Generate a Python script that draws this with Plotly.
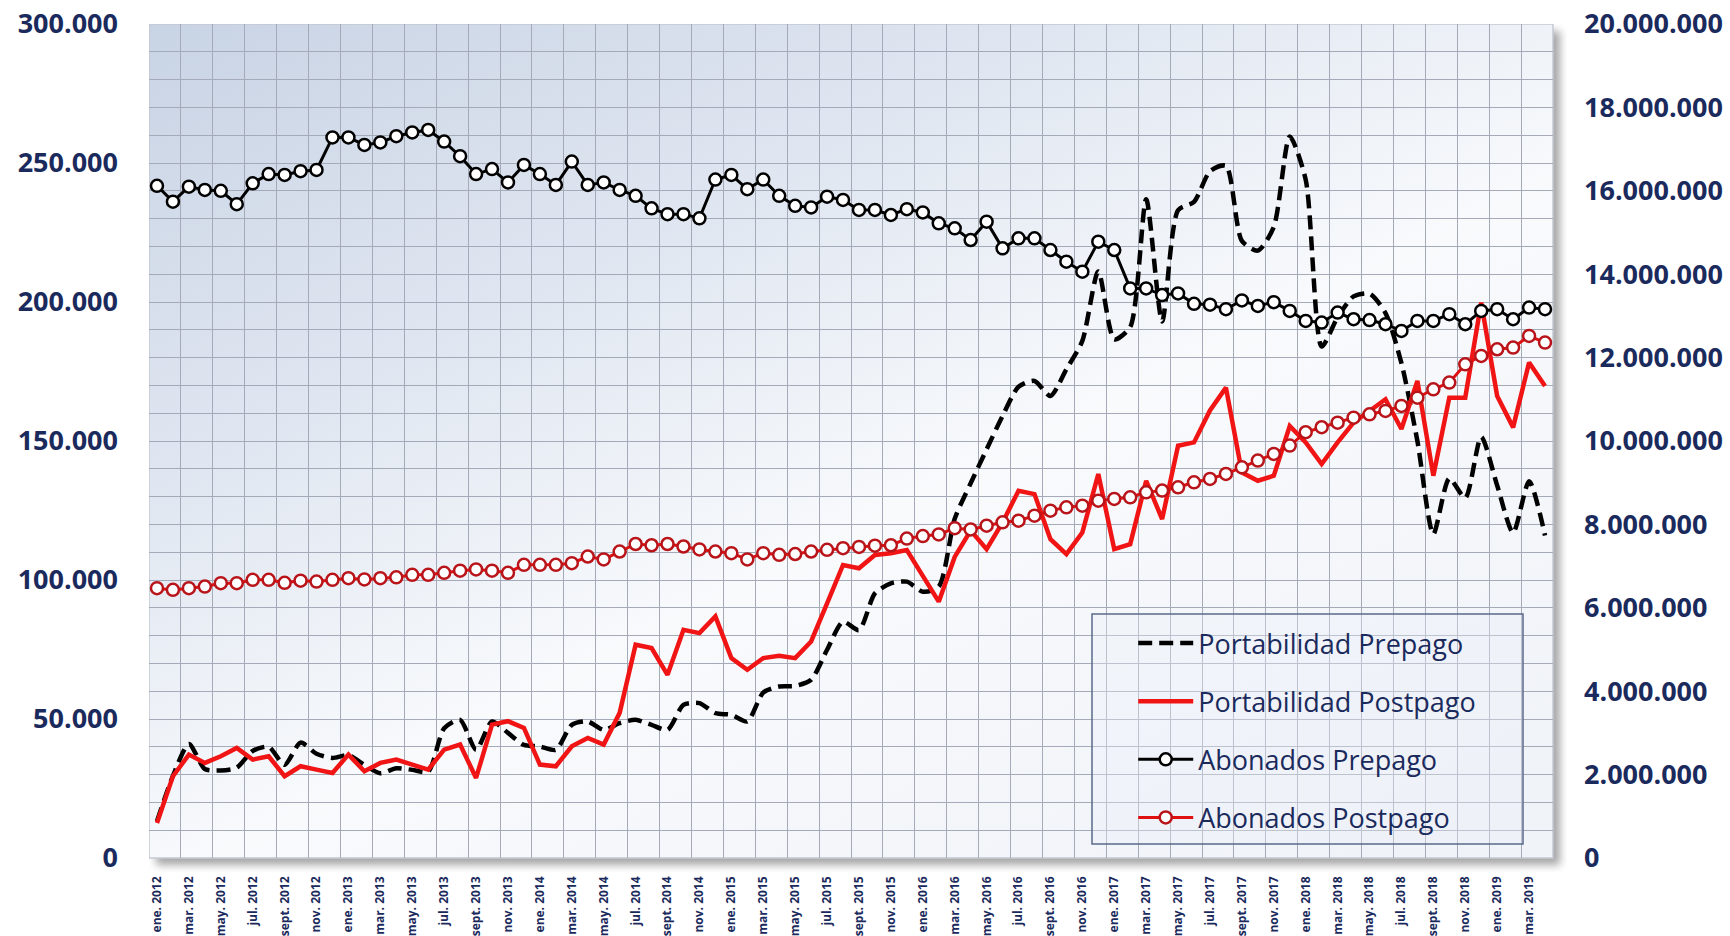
import base64
import plotly.graph_objects as go

# ---------------- data ----------------
month_abbr = ["ene.", "feb.", "mar.", "abr.", "may.", "jun.", "jul.", "ago.",
              "sept.", "oct.", "nov.", "dic."]
years = [2012, 2013, 2014, 2015, 2016, 2017, 2018, 2019]
months = [f"{m} {y}" for y in years for m in month_abbr][:88]  # ene. 2012 .. abr. 2019

portabilidad_prepago = [
    13200, 29500, 41000, 32000, 31500, 32500, 38500, 40000, 33500, 41500,
    37500, 36000, 37000, 33500, 30500, 32300, 31700, 31100, 46700, 49700,
    38900, 49100, 45000, 40700, 40100, 38900, 47900, 49100, 46100, 48500,
    49700, 47900, 46100, 55100, 55700, 52100, 51500, 49100, 59500, 61700,
    61900, 64100, 74900, 85000, 82000, 95200, 98800, 99400, 95800, 97600,
    122000, 134800, 147000, 159000, 169500, 171600, 166200, 175800, 186000, 211000,
    186600, 191000, 237000, 193000, 233000, 236000, 247000, 249000, 222000, 218500,
    227000, 259500, 244000, 184000, 194500, 202000, 203000, 196000, 178000, 150000,
    116500, 136500, 129500, 151500, 134000, 117000, 135500, 116000]

portabilidad_postpago = [
    12600, 29400, 37200, 34200, 36600, 39600, 35400, 36600, 29400, 33000,
    31800, 30600, 37200, 31200, 34200, 35400, 33600, 31800, 39000, 40800,
    28800, 48000, 49200, 46800, 33600, 33000, 40200, 43200, 40800, 52200,
    76700, 75500, 65900, 82100, 80900, 86900, 71900, 67700, 71900, 72700,
    71900, 77900, 91600, 105400, 104200, 109000, 109600, 110800, 101500, 92200,
    108300, 117800, 111100, 120700, 132100, 130900, 114700, 109300, 117100, 138100,
    111100, 112900, 135700, 121900, 148300, 149500, 161000, 169200, 138700, 135700,
    137500, 155400, 149500, 141700, 149500, 156600, 160800, 165000, 154300, 171600,
    137500, 165600, 165600, 199800, 166200, 154900, 178200, 169800]

abonados_prepago = [
    16120000, 15740000, 16100000, 16020000, 16000000, 15680000, 16180000, 16400000, 16380000, 16470000,
    16500000, 17280000, 17280000, 17100000, 17160000, 17310000, 17400000, 17460000, 17180000, 16830000,
    16400000, 16520000, 16200000, 16620000, 16400000, 16140000, 16700000, 16140000, 16200000, 16020000,
    15880000, 15580000, 15440000, 15440000, 15340000, 16270000, 16380000, 16040000, 16270000, 15880000,
    15640000, 15600000, 15860000, 15780000, 15540000, 15540000, 15420000, 15560000, 15480000, 15220000,
    15100000, 14820000, 15260000, 14620000, 14860000, 14860000, 14580000, 14300000, 14060000, 14780000,
    14580000, 13660000, 13660000, 13500000, 13540000, 13290000, 13270000, 13160000, 13370000, 13240000,
    13330000, 13120000, 12880000, 12840000, 13080000, 12920000, 12900000, 12800000, 12640000, 12880000,
    12880000, 13040000, 12800000, 13120000, 13160000, 12920000, 13200000, 13160000]

abonados_postpago = [
    6470000, 6430000, 6470000, 6510000, 6590000, 6590000, 6670000, 6670000, 6600000, 6650000,
    6630000, 6670000, 6710000, 6680000, 6710000, 6730000, 6790000, 6790000, 6840000, 6890000,
    6920000, 6890000, 6840000, 7030000, 7030000, 7030000, 7070000, 7230000, 7160000, 7350000,
    7530000, 7500000, 7530000, 7470000, 7400000, 7350000, 7310000, 7160000, 7310000, 7270000,
    7290000, 7350000, 7390000, 7430000, 7460000, 7490000, 7500000, 7660000, 7720000, 7760000,
    7910000, 7880000, 7970000, 8050000, 8090000, 8210000, 8330000, 8410000, 8450000, 8570000,
    8610000, 8650000, 8770000, 8810000, 8890000, 9010000, 9090000, 9210000, 9370000, 9530000,
    9690000, 9890000, 10210000, 10330000, 10440000, 10560000, 10640000, 10720000, 10840000, 11040000,
    11240000, 11400000, 11840000, 12040000, 12200000, 12240000, 12520000, 12360000]

series_names = ["Portabilidad Prepago", "Portabilidad Postpago",
                "Abonados Prepago", "Abonados Postpago"]

# ---------------- styling ----------------
NAVY = "#1B2A5C"
GRID = "#A4AAB7"
W, H = 1730, 936
L, R, T, B = 149, 177, 24, 78
PW, PH = W - L - R, H - T - B
SH = 14  # shadow extent

x = list(range(len(months)))

svg = f'''<svg xmlns="http://www.w3.org/2000/svg" width="{PW+SH}" height="{PH+SH}" viewBox="0 0 {PW+SH} {PH+SH}" preserveAspectRatio="none">
<defs>
<linearGradient id="g" x1="0" y1="0" x2="0.85" y2="1">
<stop offset="0" stop-color="#C8D3E4"/>
<stop offset="0.35" stop-color="#E2E8F2"/>
<stop offset="0.6" stop-color="#F8FAFC"/>
<stop offset="1" stop-color="#F0F3F8"/>
</linearGradient>
<filter id="f" x="-5%" y="-5%" width="110%" height="110%"><feGaussianBlur stdDeviation="4"/></filter>
</defs>
<rect x="7" y="7" width="{PW}" height="{PH}" fill="#000" opacity="0.35" filter="url(#f)"/>
<rect x="0" y="0" width="{PW}" height="{PH}" fill="url(#g)" stroke="#C4C9D2" stroke-width="1.5"/>
</svg>'''
svg_uri = "data:image/svg+xml;base64," + base64.b64encode(svg.encode()).decode()

fig = go.Figure()

fig.add_trace(go.Scatter(
    x=x, y=portabilidad_prepago, name=series_names[0], mode="lines",
    line=dict(color="black", width=4.5, dash="14px,7px", shape="spline", smoothing=0.7),
    legendgroup="a", yaxis="y"))
fig.add_trace(go.Scatter(
    x=x, y=portabilidad_postpago, name=series_names[1], mode="lines",
    line=dict(color="#F01414", width=4.5),
    legendgroup="b", yaxis="y"))
fig.add_trace(go.Scatter(
    x=x, y=abonados_prepago, name=series_names[2], mode="lines+markers",
    line=dict(color="black", width=3),
    marker=dict(symbol="circle", size=12, color="white", line=dict(color="black", width=2.5)),
    legendgroup="c", yaxis="y2"))
fig.add_trace(go.Scatter(
    x=x, y=abonados_postpago, name=series_names[3], mode="lines+markers",
    line=dict(color="#E01010", width=3),
    marker=dict(symbol="circle", size=12, color="white", line=dict(color="#B81419", width=2.5)),
    legendgroup="d", yaxis="y2"))

tick_font = dict(family="Open Sans", size=27, color=NAVY, weight="bold")

fig.update_layout(
    width=W, height=H,
    margin=dict(l=L, r=R, t=T, b=B, autoexpand=False),
    paper_bgcolor="white",
    plot_bgcolor="rgba(0,0,0,0)",
    separators=",.",
    font=dict(family="Open Sans", color=NAVY),
    showlegend=True,
    legend=dict(
        x=0.701, y=0.2865, xanchor="left", yanchor="top",
        bgcolor="rgba(0,0,0,0)", borderwidth=0,
        font=dict(family="Open Sans", size=27, color=NAVY),
        itemwidth=55, tracegroupgap=20, traceorder="grouped",
    ),
    xaxis=dict(
        range=[-0.5, len(months) - 0.5], automargin=False,
        tickmode="array", tickvals=x[::2], ticktext=months[::2],
        tickangle=-90,
        tickfont=dict(family="Open Sans", size=12, color=NAVY, weight="bold"),
        ticklabelstandoff=15,
        showgrid=False, zeroline=False, showline=False, ticks="",
        minor=dict(tick0=-0.5, dtick=2, showgrid=True, gridcolor=GRID, gridwidth=1, ticks=""),
        fixedrange=True,
    ),
    yaxis=dict(
        range=[0, 300000], tick0=0, dtick=50000, tickformat=",d", automargin=False,
        tickfont=tick_font, ticklabelstandoff=30,
        showgrid=True, gridcolor=GRID, gridwidth=1,
        minor=dict(dtick=10000, showgrid=True, gridcolor=GRID, gridwidth=1, ticks=""),
        zeroline=False, showline=False, ticks="",
    ),
    yaxis2=dict(
        range=[0, 20000000], tick0=0, dtick=2000000, tickformat=",d", automargin=False,
        overlaying="y", side="right",
        tickfont=tick_font, ticklabelstandoff=30,
        showgrid=False, zeroline=False, showline=False, ticks="",
    ),
    images=[dict(
        source=svg_uri, xref="paper", yref="paper",
        x=0, y=1, sizex=(PW + SH) / PW, sizey=(PH + SH) / PH,
        xanchor="left", yanchor="top", sizing="stretch", layer="below",
    )],
    shapes=[dict(
        type="rect", xref="paper", yref="paper",
        x0=(1092 - L) / PW, x1=(1523 - L) / PW,
        y0=(H - B - 844) / PH, y1=(H - B - 614) / PH,
        line=dict(color="#5B6A8A", width=1.5),
        fillcolor="rgba(235,240,248,0.35)", layer="above",
    )],
)

fig.write_html("out.html", config={"displayModeBar": False},
               post_script="document.body.style.margin='0';document.body.style.overflow='hidden';")
